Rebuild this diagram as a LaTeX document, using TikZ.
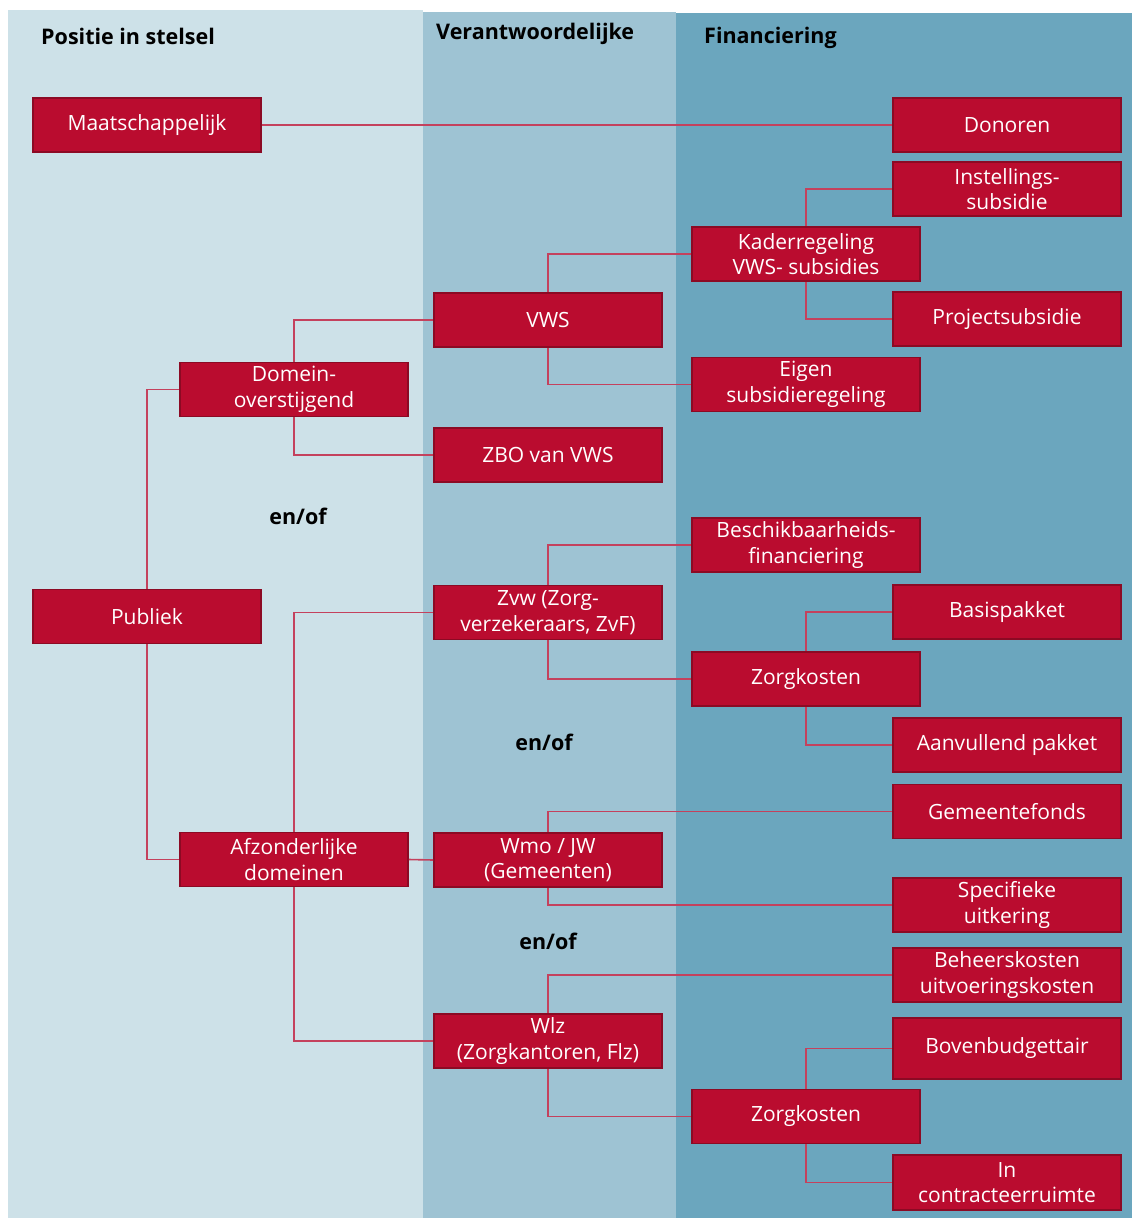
\documentclass[tikz,border=0pt]{standalone}
\usepackage{fontspec}
\setmainfont{Open Sans}
\definecolor{colA}{HTML}{CDE1E8}
\definecolor{colB}{HTML}{9EC3D3}
\definecolor{colC}{HTML}{6BA6BE}
\definecolor{boxfill}{HTML}{BA0C2F}
\definecolor{boxline}{HTML}{8C0A24}
\definecolor{conn}{HTML}{C4415D}
\begin{document}
\begin{tikzpicture}[x=1pt,y=-1pt,
  box/.style={draw=boxline,line width=1.6pt,fill=boxfill,text=white,
    minimum width=228pt,minimum height=54pt,inner sep=0pt,
    align=center,font=\fontsize{21}{25.5}\selectfont},
  link/.style={draw=conn,line width=1.6pt},
  title/.style={anchor=west,font=\fontsize{21.5}{24}\selectfont\bfseries,inner sep=0pt},
  enof/.style={font=\fontsize{21.5}{24}\selectfont\bfseries,inner sep=0pt}]
\useasboundingbox (0,0) rectangle (1132,1218);
\fill[white] (0,0) rectangle (1132,1218);
\fill[colA] (8,10) rectangle (423,1218);
\fill[colB] (423,12) rectangle (676,1218);
\fill[colC] (676,13) rectangle (1132,1218);
\node[title] (t1) at (41,36) {Positie in stelsel};
\node[title] (t2) at (436,34) {Verantwoordelijke};
\node[title] (t3) at (704,38) {Financiering};

\node[box] (maat) at (147,125) {Maatschappelijk};
\node[box] (donoren) at (1007,125) {Donoren};
\node[box] (instel) at (1007,189) {Instellings-\\subsidie};
\node[box] (kader) at (806,254) {Kaderregeling\\VWS- subsidies};
\node[box] (project) at (1007,319) {Projectsubsidie};
\node[box] (vws) at (548,320) {VWS};
\node[box] (eigen) at (806,384.5) {Eigen\\subsidieregeling};
\node[box] (domein) at (294,389.5) {Domein-\\overstijgend};
\node[box] (zbo) at (548,455) {ZBO van VWS};
\node[box] (besch) at (806,545) {Beschikbaarheids-\\financiering};
\node[box] (publiek) at (147,616.5) {Publiek};
\node[box] (zvw) at (548,612.5) {Zvw (Zorg-\\verzekeraars, ZvF)};
\node[box] (basis) at (1007,612) {Basispakket};
\node[box] (zorg1) at (806,679) {Zorgkosten};
\node[box] (aanv) at (1007,745) {Aanvullend pakket};
\node[box] (gemeente) at (1007,811.5) {Gemeentefonds};
\node[box] (afz) at (294,859.5) {Afzonderlijke\\domeinen};
\node[box] (wmo) at (548,860) {Wmo / JW\\(Gemeenten)};
\node[box] (spec) at (1007,905) {Specifieke\\uitkering};
\node[box] (beheer) at (1007,975) {Beheerskosten\\uitvoeringskosten};
\node[box] (wlz) at (548,1041) {Wlz\\(Zorgkantoren, Flz)};
\node[box,minimum height=61pt] (boven) at (1007,1048.5) {Bovenbudgettair};
\node[box] (zorg2) at (806,1116.5) {Zorgkosten};
\node[box,minimum height=55pt] (incontr) at (1007,1182.5) {In\\contracteerruimte};

\node[enof] (e1) at (298,516) {en/of};
\node[enof] (e2) at (544,742) {en/of};
\node[enof] (e3) at (548,941) {en/of};

\draw[link] (maat.east) -- (donoren.west);
\draw[link] (kader.north) |- (instel.west);
\draw[link] (kader.south) |- (project.west);
\draw[link] (vws.north) |- (kader.west);
\draw[link] (vws.south) |- (eigen.west);
\draw[link] (domein.north) |- (vws.west);
\draw[link] (domein.south) |- (zbo.west);
\draw[link] (publiek.north) |- (domein.west);
\draw[link] (publiek.south) |- (afz.west);
\draw[link] (zvw.north) |- (besch.west);
\draw[link] (zvw.south) |- (zorg1.west);
\draw[link] (zorg1.north) |- (basis.west);
\draw[link] (zorg1.south) |- (aanv.west);
\draw[link] (afz.north) |- (zvw.west);
\draw[link] (afz.east) -- (wmo.west);
\draw[link] (afz.south) |- (wlz.west);
\draw[link] (wmo.north) |- (gemeente.west);
\draw[link] (wmo.south) |- (spec.west);
\draw[link] (wlz.north) |- (beheer.west);
\draw[link] (wlz.south) |- (zorg2.west);
\draw[link] (zorg2.north) |- (boven.west);
\draw[link] (zorg2.south) |- (incontr.west);
\end{tikzpicture}
\end{document}
